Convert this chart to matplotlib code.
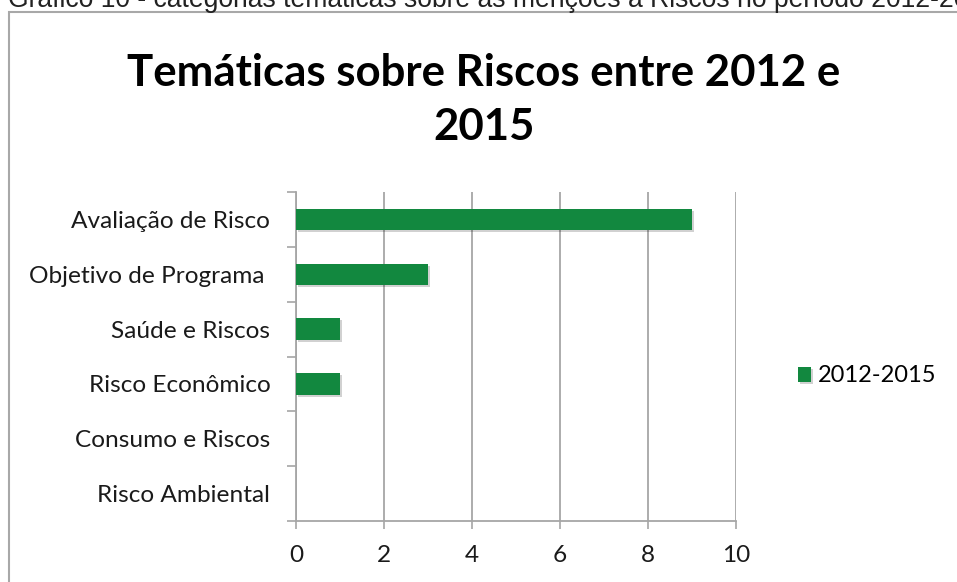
import matplotlib
matplotlib.use("Agg")
import matplotlib.pyplot as plt
from matplotlib.patches import Rectangle
from matplotlib.ticker import FixedLocator
import matplotlib.patheffects as pe

categories = ["Avaliação de Risco", "Objetivo de Programa ", "Saúde e Riscos",
              "Risco Econômico", "Consumo e Riscos", "Risco Ambiental"]
values = [9, 3, 1, 1, 0, 0]
series_name = "2012-2015"
xticks = [0, 2, 4, 6, 8, 10]
title_lines = ["Temáticas sobre Riscos entre 2012 e", "2015"]
caption = "Gráfico 10 - categorias temáticas sobre as menções a Riscos no período 2012-2015"

W, H = 957, 582
fig = plt.figure(figsize=(W/100, H/100), dpi=100)
fig.patch.set_facecolor("white")

def fx(px): return px / W
def fy(py): return 1 - py / H

# outer frame
fig.add_artist(Rectangle((fx(9), fy(H + 5)), fx(W + 10), (H + 5 - 12) / H,
                         transform=fig.transFigure, fill=False,
                         edgecolor="#A8A8A8", linewidth=1.5))

# caption (cut at top, as in the reference)
fig.text(fx(8), fy(7), caption, family="Liberation Sans", fontsize=19.1,
         ha="left", va="baseline", color="#222222")

green = "#12883F"
grid = "#A6A6A6"
fs = 17.6

ax = fig.add_axes([fx(296), fy(521), fx(736) - fx(296), (521 - 192) / H])
pos = list(range(len(categories)))
bars = ax.barh(pos, values, height=0.39, color=green, label=series_name, zorder=3)
for b in bars:
    b.set_path_effects([pe.SimplePatchShadow(offset=(1.5, -1.5), shadow_rgbFace="#000000", alpha=0.18), pe.Normal()])

ax.set_xlim(0, 10)
ax.set_ylim(len(categories) - 0.5, -0.5)
ax.set_xticks(xticks)
ax.set_xticklabels([str(t) for t in xticks])
ax.set_yticks(pos)
ax.set_yticklabels(categories)
ax.yaxis.set_minor_locator(FixedLocator([i - 0.5 for i in range(len(categories) + 1)]))
ax.tick_params(axis="y", which="major", length=0, pad=18.5)
ax.tick_params(axis="y", which="minor", length=6.5, width=1.2, color=grid, direction="out")
ax.tick_params(axis="x", which="major", length=6, width=1.2, color=grid, direction="out", pad=11)
for lab in ax.get_xticklabels() + ax.get_yticklabels():
    lab.set_family("Lato")
    lab.set_fontsize(fs)
    lab.set_color("#1a1a1a")

ax.grid(axis="x", color=grid, linewidth=1.3, zorder=0)
for s in ["top", "right"]:
    ax.spines[s].set_visible(False)
for s in ["left", "bottom"]:
    ax.spines[s].set_color(grid)
    ax.spines[s].set_linewidth(1.3)

for line, base in zip(title_lines, [86, 140]):
    fig.text(fx(484), fy(base), line, family="Lato", fontweight="bold", fontsize=31.5,
             ha="center", va="baseline", color="#000000")

leg = fig.legend(handles=[bars], labels=[series_name], loc="center left",
                 bbox_to_anchor=(fx(777), fy(376)), frameon=False,
                 handlelength=0.55, handleheight=0.6, handletextpad=0.3,
                 prop={"family": "Lato", "size": 17})

fig.savefig("out.png", dpi=100)
